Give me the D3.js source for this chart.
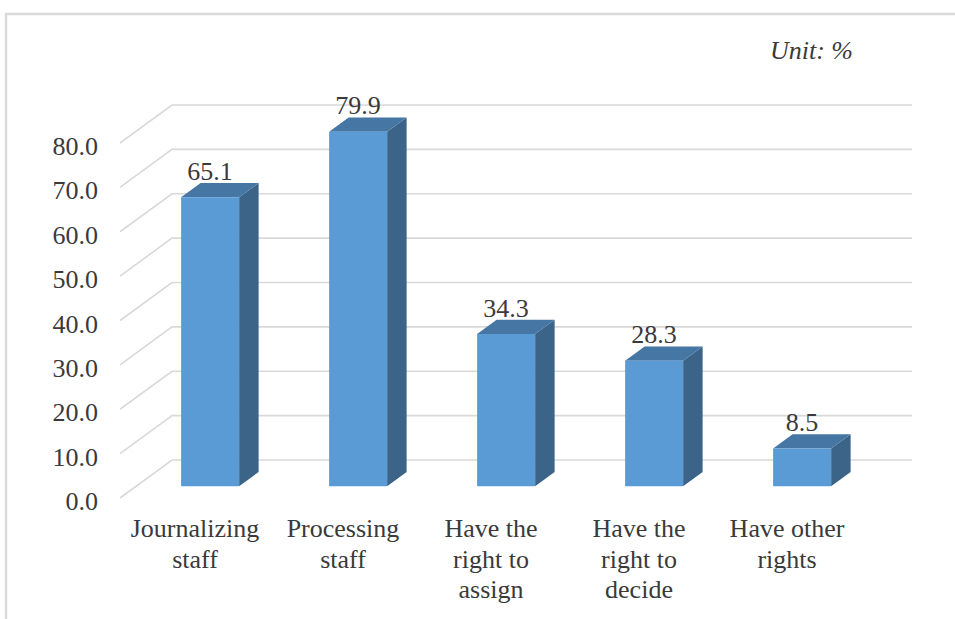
<!DOCTYPE html>
<html>
<head>
<meta charset="utf-8">
<script src="https://cdn.jsdelivr.net/npm/d3@7"></script>
<style>
  html, body { margin: 0; padding: 0; background: #fff; }
  svg { display: block; }
</style>
</head>
<body>
<svg id="chart" width="955" height="619"></svg>
<script>
// Share of respondents by type of authority (percent)
const categories = [
  "Journalizing\nstaff",
  "Processing\nstaff",
  "Have the\nright to\nassign",
  "Have the\nright to\ndecide",
  "Have other\nrights"
];
const values = [65.1, 79.9, 34.3, 28.3, 8.5];
const tickValues = [0, 10, 20, 30, 40, 50, 60, 70, 80];
const unitLabel = "Unit: %";

// Pick the first installed Times-like serif face
function pickFont(cands) {
  const ctx = document.createElement("canvas").getContext("2d");
  const probe = "Journalizing staff 0123456789";
  ctx.font = "26px monospace";
  const base = ctx.measureText(probe).width;
  for (const f of cands) {
    ctx.font = `26px '${f}', monospace`;
    if (Math.abs(ctx.measureText(probe).width - base) > 0.5) return `'${f}', serif`;
  }
  return "serif";
}
const FONT = pickFont(["Liberation Serif", "Tinos", "Times New Roman", "Nimbus Roman", "Nimbus Roman No9 L", "FreeSerif", "Noto Serif", "DejaVu Serif"]);
const TEXT_COLOR = "#3a3a3a";

const svg = d3.select("#chart").attr("font-family", FONT);

// Oblique 3D projection: a point on the front plane is shifted by depth t (0 = front, 1 = back wall)
const depthX = 52, depthY = -38;
const proj = (x, y, t) => [x + depthX * t, y + depthY * t];

// Scales for the front plane of the plot floor
const x = d3.scaleBand().domain(categories).range([120, 860]).paddingInner(0).paddingOuter(0);
const y = d3.scaleLinear().domain([0, 80]).range([498, 143]);

// Outer frame
svg.append("path")
  .attr("d", "M6,619 L6,14 L955,14")
  .attr("fill", "none")
  .attr("stroke", "#d9d9d9")
  .attr("stroke-width", 2.5);

// Back-wall gridlines and the floor/wall diagonals
const grid = svg.append("g").attr("stroke", "#d9d9d9").attr("stroke-width", 1.6).attr("fill", "none");
tickValues.forEach(v => {
  const a = proj(x.range()[0], y(v), 0);
  const b = proj(x.range()[0], y(v), 1);
  const c = proj(x.range()[1], y(v), 1);
  grid.append("path").attr("d", `M${a[0]},${a[1]}L${b[0]},${b[1]}L${c[0]},${c[1]}`);
});

// Y axis labels
svg.append("g").selectAll("text")
  .data(tickValues)
  .join("text")
  .attr("x", 98)
  .attr("y", d => y(d) + 12)
  .attr("text-anchor", "end")
  .attr("font-size", 26)
  .attr("fill", TEXT_COLOR)
  .style("font-family", FONT)
  .text(d => d3.format(".1f")(d));

// Bars as boxes placed between depth t0 and t1
const t0 = 0.31, t1 = 0.685;
const barW = 58;
const bars = svg.append("g");
categories.forEach((c, i) => {
  const v = values[i];
  const cx = x(c) + x.bandwidth() / 2;
  const xl = cx - barW / 2, xr = cx + barW / 2;
  const yb = y(0), yt = y(v);
  const fTL = proj(xl, yt, t0), fTR = proj(xr, yt, t0), fBR = proj(xr, yb, t0), fBL = proj(xl, yb, t0);
  const bTL = proj(xl, yt, t1), bTR = proj(xr, yt, t1), bBR = proj(xr, yb, t1);
  const poly = pts => "M" + pts.map(p => p.join(",")).join("L") + "Z";
  // right side
  bars.append("path").attr("d", poly([fTR, bTR, bBR, fBR])).attr("fill", "#3b6488");
  // top
  bars.append("path").attr("d", poly([fTL, bTL, bTR, fTR])).attr("fill", "#4676a4");
  // front
  bars.append("path").attr("d", poly([fTL, fTR, fBR, fBL])).attr("fill", "#5b9bd5");
  // value label
  bars.append("text")
    .attr("x", (fTL[0] + fTR[0]) / 2)
    .attr("y", bTL[1] - 3)
    .attr("text-anchor", "middle")
    .attr("font-size", 26)
    .attr("fill", TEXT_COLOR)
    .style("font-family", FONT)
    .text(d3.format(".1f")(v));
});

// Category labels on the front plane
const cat = svg.append("g");
categories.forEach(c => {
  const t = cat.append("text")
    .attr("x", x(c) + x.bandwidth() / 2 + 1)
    .attr("y", 537)
    .attr("text-anchor", "middle")
    .attr("font-size", 26)
    .attr("fill", TEXT_COLOR)
    .style("font-family", FONT);
  c.split("\n").forEach((line, j) => {
    t.append("tspan")
      .attr("x", x(c) + x.bandwidth() / 2 + 1)
      .attr("dy", j === 0 ? 0 : 30.5)
      .text(line);
  });
});

// Unit note
svg.append("text")
  .attr("x", 853)
  .attr("y", 59)
  .attr("text-anchor", "end")
  .attr("font-size", 26)
  .attr("font-style", "italic")
  .attr("fill", TEXT_COLOR)
  .style("font-family", FONT)
  .text(unitLabel);
</script>
</body>
</html>
